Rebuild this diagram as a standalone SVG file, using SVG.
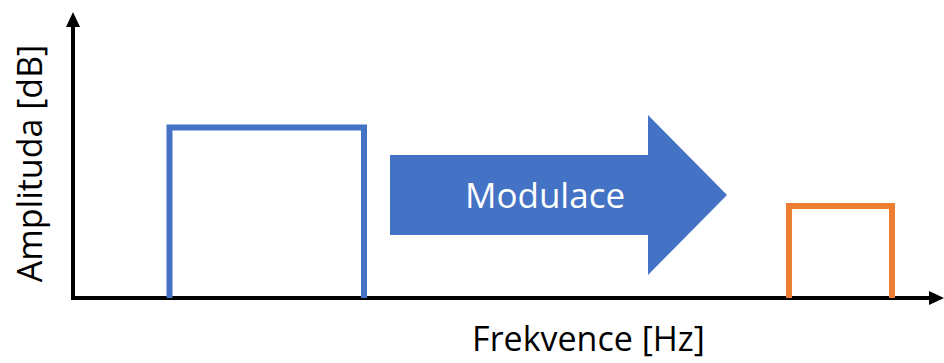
<svg xmlns="http://www.w3.org/2000/svg" width="944" height="363" viewBox="0 0 944 363">
<style>
.axis{stroke:#000;stroke-width:4;fill:none}
.lbl{font-family:"Open Sans","Noto Sans",sans-serif;font-size:34px;fill:#000}
</style>
<rect width="944" height="363" fill="#fff"/>
<g id="connectors">
<line class="axis" x1="73" y1="300" x2="73" y2="24"/>
<polygon points="73,12 66,27 80,27" fill="#000"/>
<line class="axis" x1="71" y1="298" x2="932" y2="298"/>
<polygon points="944,298 929,291 929,305" fill="#000"/>
</g>
<g id="blue-band">
<polyline points="169.5,298 169.5,127.5 364,127.5 364,298" fill="none" stroke="#4472C4" stroke-width="6"/>
</g>
<g id="orange-band">
<polyline points="789,298 789,206 892,206 892,298" fill="none" stroke="#ED7D31" stroke-width="6"/>
</g>
<g id="modulace">
<polygon points="390,155 648,155 648,115 727,195 648,275 648,235 390,235" fill="#4472C4"/>
<text x="545" y="208" text-anchor="middle" class="lbl" style="fill:#fff;font-size:35px">Modulace</text>
</g>
<g id="x-label">
<text x="588.5" y="351" text-anchor="middle" class="lbl">Frekvence [Hz]</text>
</g>
<g id="y-label">
<text transform="translate(42,163.5) rotate(-90)" x="0" y="0" text-anchor="middle" class="lbl">Amplituda [dB]</text>
</g>
</svg>
